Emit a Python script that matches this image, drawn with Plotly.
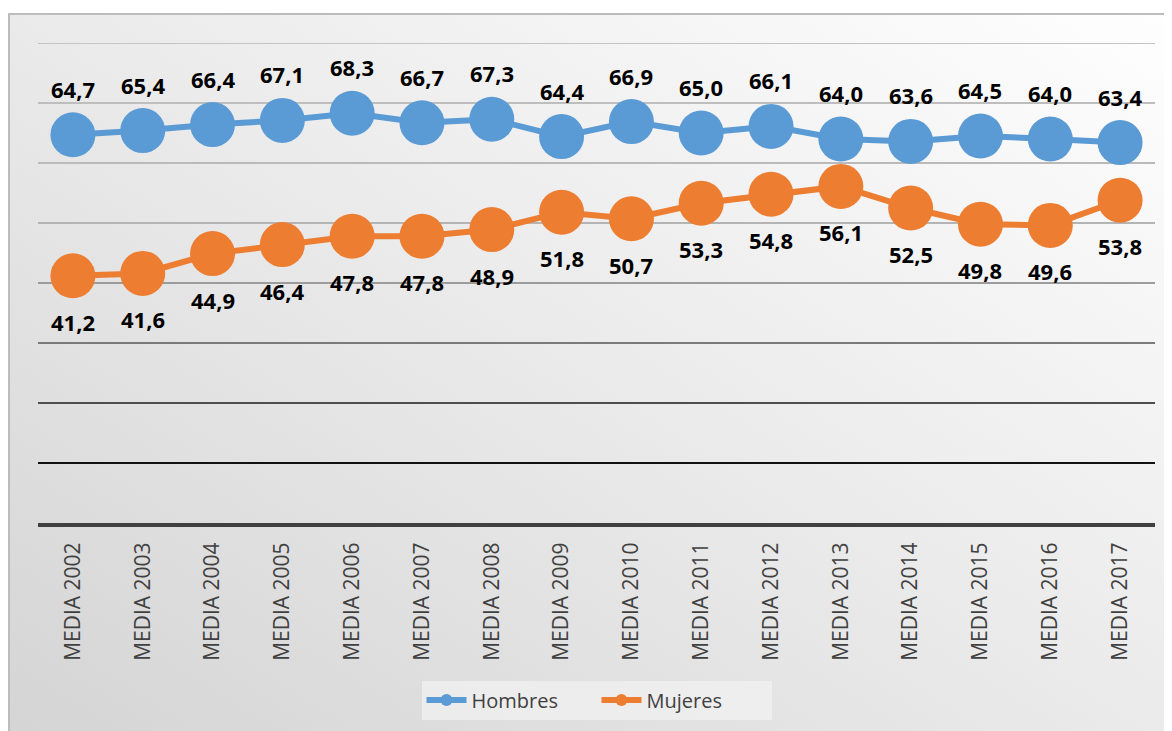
import base64
import plotly.graph_objects as go

categories = ["MEDIA 2002", "MEDIA 2003", "MEDIA 2004", "MEDIA 2005", "MEDIA 2006",
              "MEDIA 2007", "MEDIA 2008", "MEDIA 2009", "MEDIA 2010", "MEDIA 2011",
              "MEDIA 2012", "MEDIA 2013", "MEDIA 2014", "MEDIA 2015", "MEDIA 2016",
              "MEDIA 2017"]
hombres = [64.7, 65.4, 66.4, 67.1, 68.3, 66.7, 67.3, 64.4, 66.9, 65.0, 66.1, 64.0, 63.6, 64.5, 64.0, 63.4]
mujeres = [41.2, 41.6, 44.9, 46.4, 47.8, 47.8, 48.9, 51.8, 50.7, 53.3, 54.8, 56.1, 52.5, 49.8, 49.6, 53.8]
grid_values = [80, 70, 60, 50, 40, 30, 20, 10]
grid_colors = ["#c4c4c4", "#bebebe", "#bababa", "#b4b4b4", "#9c9c9c", "#7a7a7a", "#4e4e4e", "#111111"]

BLUE = "#5B9BD5"
ORANGE = "#ED7D31"
W, H = 1172, 731
OFF = 8  # page body margin offset
L, R, T, B = 38 - OFF, 17 + OFF, 43 - OFF, 208 + OFF
PW, PH = W - L - R, H - T - B


def px_x(p):
    # page pixel -> paper x
    return (p - OFF - L) / PW


def px_y(p):
    # page pixel -> paper y
    return (H - B - (p - OFF)) / PH


def fmt(v):
    return f"{v:.1f}".replace(".", ",")


fig = go.Figure()
for name, vals, col in [("Hombres", hombres, BLUE), ("Mujeres", mujeres, ORANGE)]:
    fig.add_trace(go.Scatter(x=categories, y=vals, mode="lines+markers", name=name,
                             line=dict(color=col, width=6),
                             marker=dict(color=col, size=45), showlegend=False,
                             hoverinfo="skip"))
for name, col in [("Hombres", BLUE), ("Mujeres", ORANGE)]:
    fig.add_trace(go.Scatter(x=[None], y=[None], mode="lines+markers", name=name,
                             line=dict(color=col, width=6),
                             marker=dict(color=col, size=12)))

lab_font = dict(family="Open Sans", size=22, color="#000000", weight="bold")
annotations = []
for c, v in zip(categories, hombres):
    annotations.append(dict(x=c, y=v, text=fmt(v), showarrow=False, yshift=46, font=lab_font))
for c, v in zip(categories, mujeres):
    annotations.append(dict(x=c, y=v, text=fmt(v), showarrow=False, yshift=-46, font=lab_font))

shapes = []
for gv, gc in zip(grid_values, grid_colors):
    shapes.append(dict(type="line", xref="paper", yref="y", x0=0, x1=1, y0=gv, y1=gv,
                       line=dict(color=gc, width=2), layer="below"))
# outer chart border
shapes.append(dict(type="rect", xref="paper", yref="paper",
                   x0=px_x(9), x1=px_x(1220), y0=px_y(14), y1=px_y(780),
                   line=dict(color="#bcbcbc", width=2), fillcolor="rgba(0,0,0,0)", layer="below"))

svg = ('<svg xmlns="http://www.w3.org/2000/svg" width="1200" height="760" preserveAspectRatio="none">'
       '<defs><linearGradient id="g" x1="1" y1="0" x2="0" y2="1">'
       '<stop offset="0" stop-color="#ffffff"/><stop offset="0.5" stop-color="#eaeaea"/>'
       '<stop offset="1" stop-color="#d3d3d3"/></linearGradient></defs>'
       '<rect width="1200" height="760" fill="url(#g)"/></svg>')
src = "data:image/svg+xml;base64," + base64.b64encode(svg.encode()).decode()

fig.update_layout(
    width=W, height=H,
    margin=dict(l=L, r=R, t=T, b=B),
    paper_bgcolor="#ffffff",
    plot_bgcolor="rgba(0,0,0,0)",
    images=[dict(source=src, xref="paper", yref="paper", x=px_x(9), y=px_y(14),
                 sizex=px_x(1220) - px_x(9), sizey=px_y(14) - px_y(780),
                 xanchor="left", yanchor="top", sizing="stretch", layer="below")],
    shapes=shapes,
    annotations=annotations,
    xaxis=dict(type="category", range=[-0.5, 15.5], showgrid=False, tickangle=-90,
               tickfont=dict(family="Open Sans", size=21, color="#404040"),
               showline=True, linecolor="#404040", linewidth=4, ticks="",
               ticklabelstandoff=7, fixedrange=True),
    yaxis=dict(range=[0, 80], showgrid=False, showticklabels=False, zeroline=False,
               showline=False, ticks="", fixedrange=True),
    legend=dict(orientation="h", x=0.5, xanchor="center", y=px_y(700), yanchor="middle",
                bgcolor="rgba(242,242,242,0.7)",
                font=dict(family="Open Sans", size=20, color="#404040"),
                itemwidth=40, entrywidth=120, entrywidthmode="pixels"),
    showlegend=True,
)

fig.write_html("out.html")
